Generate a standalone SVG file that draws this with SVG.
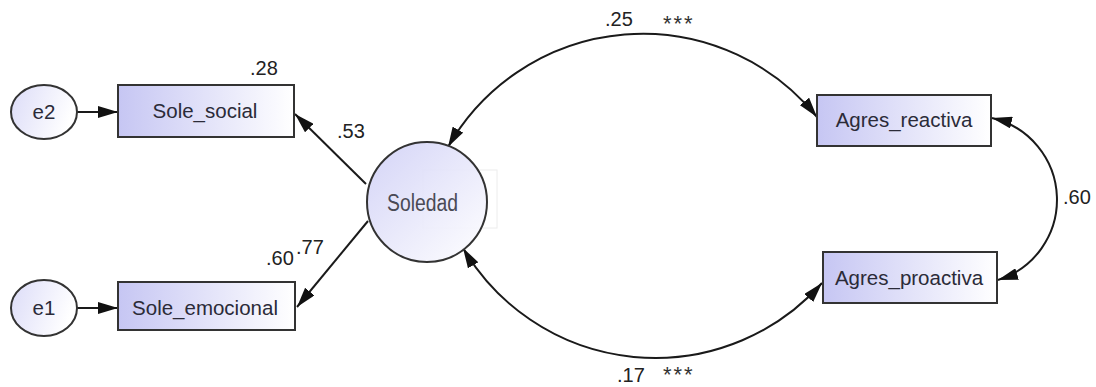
<svg xmlns="http://www.w3.org/2000/svg" width="1096" height="387" viewBox="0 0 1096 387">
<style>
.box{stroke:#333;stroke-width:2;fill:url(#gRect)}
.ell{stroke:#333;stroke-width:2;fill:url(#gEll)}
.lbl{font-family:"Liberation Sans",Arial,sans-serif;font-size:20.5px;fill:#2b2b38;text-anchor:middle}
.num{font-family:"Liberation Sans",Arial,sans-serif;font-size:20px;fill:#222}
.star{font-family:"Liberation Sans",Arial,sans-serif;font-size:22px;fill:#333}
.con{fill:none;stroke:#1a1a1a;stroke-width:2}
</style>
<defs>
<linearGradient id="gRect" x1="0" y1="0" x2="1" y2="0">
<stop offset="0" stop-color="#c6c6f3"/>
<stop offset="1" stop-color="#ffffff"/>
</linearGradient>
<linearGradient id="gEll" x1="0" y1="0" x2="1" y2="0.3">
<stop offset="0" stop-color="#dcdcf8"/>
<stop offset="1" stop-color="#ffffff"/>
</linearGradient>
<linearGradient id="gCirc" x1="0" y1="0" x2="1" y2="1">
<stop offset="0" stop-color="#d0d0f6"/>
<stop offset="1" stop-color="#ffffff"/>
</linearGradient>
<marker id="arr" markerUnits="userSpaceOnUse" markerWidth="22" markerHeight="12" refX="20" refY="6" orient="auto-start-reverse">
<path d="M0,0 L20,6 L0,12 z" fill="#111"/>
</marker>
</defs>
<rect width="1096" height="387" fill="#ffffff"/>

<g id="connectors">
<line class="con" x1="77" y1="112" x2="118" y2="112" marker-end="url(#arr)"/>
<line class="con" x1="77" y1="308" x2="118" y2="308" marker-end="url(#arr)"/>
<line class="con" x1="366" y1="184" x2="295" y2="114" marker-end="url(#arr)"/>
<line class="con" x1="368" y1="221" x2="297" y2="307" marker-end="url(#arr)"/>
<path class="con" d="M448,147 A224,224 0 0 1 817,117" marker-start="url(#arr)" marker-end="url(#arr)"/>
<path class="con" d="M463,248 A223,223 0 0 0 822,283" marker-start="url(#arr)" marker-end="url(#arr)"/>
<path class="con" d="M992,118 A84,84 0 0 1 998,280" marker-start="url(#arr)" marker-end="url(#arr)"/>
</g>

<g id="e2">
<ellipse class="ell" cx="44" cy="112" rx="33" ry="27"/>
<text class="lbl" x="44" y="119">e2</text>
</g>
<g id="e1">
<ellipse class="ell" cx="44" cy="308" rx="33" ry="28"/>
<text class="lbl" x="44" y="315">e1</text>
</g>
<g id="Sole_social">
<rect class="box" x="118" y="85" width="176" height="52"/>
<text class="lbl" x="205" y="118">Sole_social</text>
<text class="num" x="250" y="75">.28</text>
</g>
<g id="Sole_emocional">
<rect class="box" x="118" y="282" width="177" height="48"/>
<text class="lbl" x="205" y="315">Sole_emocional</text>
<text class="num" x="266" y="265">.60</text>
</g>
<g id="Soledad">
<rect x="423" y="170" width="74" height="58" fill="none" stroke="#ececec" stroke-width="1"/>
<circle cx="427" cy="202" r="60" stroke="#333" stroke-width="2" fill="url(#gCirc)" fill-opacity="0.92"/>
<text x="422.5" y="211" font-family="'Liberation Sans',Arial,sans-serif" font-size="23" fill="#4a4a55" text-anchor="middle" textLength="71" lengthAdjust="spacingAndGlyphs">Soledad</text>
</g>
<g id="Agres_reactiva">
<rect class="box" x="817" y="95" width="174" height="51"/>
<text class="lbl" x="904" y="127">Agres_reactiva</text>
</g>
<g id="Agres_proactiva">
<rect class="box" x="823" y="252" width="174" height="51"/>
<text class="lbl" x="909" y="285">Agres_proactiva</text>
</g>

<g id="labels">
<text class="num" x="337" y="138">.53</text>
<text class="num" x="296" y="254">.77</text>
<text class="num" x="605" y="26">.25</text>
<text class="star" x="663" y="31" letter-spacing="2">***</text>
<text class="num" x="617" y="382">.17</text>
<text class="star" x="663" y="382" letter-spacing="2">***</text>
<text class="num" x="1063" y="204">.60</text>
</g>
</svg>
